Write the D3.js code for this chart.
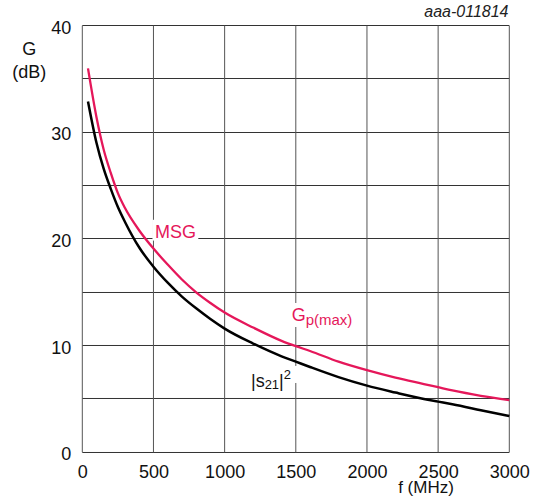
<!DOCTYPE html>
<html>
<head>
<meta charset="utf-8">
<script src="https://cdn.jsdelivr.net/npm/d3@7"></script>
<style>
  body { margin: 0; background: #fff; }
  text { font-family: "Liberation Sans", Arial, sans-serif; }
</style>
</head>
<body>
<script>
// Datos (f en MHz, G en dB)
var frecuencias = [40, 100, 150, 200, 250, 300, 400, 500, 600, 700, 800, 900, 1000, 1200, 1400, 1500, 1600, 1800, 2000, 2200, 2400, 2500, 2600, 2800, 3000];
var gpMax = [36.0, 31.4, 28.4, 26.2, 24.3, 22.9, 20.8, 19.1, 17.6, 16.2, 15.0, 14.0, 13.1, 11.7, 10.45, 9.95, 9.5, 8.5, 7.7, 7.0, 6.4, 6.1, 5.8, 5.3, 4.9];
var s21 = [32.9, 29.0, 26.6, 24.7, 23.0, 21.6, 19.2, 17.4, 15.9, 14.6, 13.5, 12.5, 11.6, 10.2, 9.0, 8.5, 8.0, 7.05, 6.25, 5.6, 5.0, 4.75, 4.5, 3.95, 3.4];

var ticksX = [0, 500, 1000, 1500, 2000, 2500, 3000];
var ticksY = [0, 10, 20, 30, 40];
var gridY = [0, 5, 10, 15, 20, 25, 30, 35, 40];

var rojo = "#e5175a";

var margin = {top: 25.7, right: 26.7, bottom: 51.7, left: 82.3},
    width = 536 - margin.left - margin.right,
    height = 504 - margin.top - margin.bottom;

var root = d3.select("body")
             .append("svg")
             .attr("width", 536)
             .attr("height", 504);

var svg = root.append("g")
              .attr("transform", "translate(" + margin.left + "," + margin.top + ")");

var x = d3.scaleLinear().domain([0, 3000]).range([0, width]);
var y = d3.scaleLinear().domain([0, 40]).range([height, 0]);

// Rejilla
svg.append("g")
   .selectAll("line")
   .data(gridY)
   .enter()
   .append("line")
   .attr("x1", 0)
   .attr("x2", width)
   .attr("y1", function(d) { return Math.round(y(d)) + 0.5 - margin.top % 1; })
   .attr("y2", function(d) { return Math.round(y(d)) + 0.5 - margin.top % 1; })
   .attr("stroke", "#333")
   .attr("stroke-width", 1);

svg.append("g")
   .selectAll("line")
   .data(ticksX)
   .enter()
   .append("line")
   .attr("x1", function(d) { return x(d); })
   .attr("x2", function(d) { return x(d); })
   .attr("y1", 0)
   .attr("y2", height)
   .attr("stroke", "#555")
   .attr("stroke-width", 1);

// Ejes (solo etiquetas)
var ejeX = svg.append("g")
   .attr("transform", "translate(0," + height + ")")
   .call(d3.axisBottom(x).tickValues(ticksX).tickSize(0).tickPadding(12.6).tickFormat(d3.format("d")));
ejeX.attr("font-size", 18).attr("font-family", null);
ejeX.select(".domain").remove();
ejeX.selectAll("text").attr("fill", "#111");

var ejeY = svg.append("g")
   .call(d3.axisLeft(y).tickValues(ticksY).tickSize(0).tickPadding(11));
ejeY.attr("font-size", 18).attr("font-family", null);
ejeY.select(".domain").remove();
ejeY.selectAll("text").attr("fill", "#111").attr("dy", "0.42em");

// Fondos blancos de las etiquetas
var cajas = [
    {f0: 493, f1: 815, g0: 21.8, g1: 19.85},
    {f0: 1450, f1: 1925, g0: 14.0, g1: 11.75},
    {f0: 1171, f1: 1509, g0: 8.1, g1: 6.5}
];
svg.append("g")
   .selectAll("rect")
   .data(cajas)
   .enter()
   .append("rect")
   .attr("x", function(d) { return x(d.f0); })
   .attr("y", function(d) { return y(d.g0); })
   .attr("width", function(d) { return x(d.f1) - x(d.f0); })
   .attr("height", function(d) { return y(d.g1) - y(d.g0); })
   .attr("fill", "#fff");

// Curvas
var linea = function(valores) {
    return d3.line()
             .x(function(d, i) { return x(frecuencias[i]); })
             .y(function(d) { return y(d); })
             .curve(d3.curveMonotoneX)(valores);
};

svg.append("path")
   .attr("d", linea(s21))
   .attr("fill", "none")
   .attr("stroke", "#000")
   .attr("stroke-width", 2.5);

svg.append("path")
   .attr("d", linea(gpMax))
   .attr("fill", "none")
   .attr("stroke", rojo)
   .attr("stroke-width", 2.3);

// Etiquetas de las curvas
svg.append("text")
   .attr("x", x(511))
   .attr("y", y(20.1))
   .attr("font-size", 18)
   .attr("fill", rojo)
   .text("MSG");

var gp = svg.append("text")
   .attr("x", x(1471))
   .attr("y", y(12.34))
   .attr("font-size", 18)
   .attr("fill", rojo);
gp.append("tspan").text("G");
gp.append("tspan").attr("font-size", 15).attr("dy", 4.5).text("p(max)");

var s = svg.append("text")
   .attr("x", x(1185))
   .attr("y", y(6.1))
   .attr("font-size", 18)
   .attr("fill", "#111");
s.append("tspan").text("|s");
s.append("tspan").attr("font-size", 13).attr("dy", 2).text("21");
s.append("tspan").attr("dy", -2).text("|");
s.append("tspan").attr("font-size", 13).attr("dy", -8).text("2");

// Titulos de ejes y referencia
root.append("text")
    .attr("x", 29.3)
    .attr("y", 55)
    .attr("text-anchor", "middle")
    .attr("font-size", 18)
    .attr("fill", "#111")
    .text("G");

root.append("text")
    .attr("x", 29.3)
    .attr("y", 78)
    .attr("text-anchor", "middle")
    .attr("font-size", 18)
    .attr("fill", "#111")
    .text("(dB)");

root.append("text")
    .attr("x", 426)
    .attr("y", 493)
    .attr("text-anchor", "middle")
    .attr("font-size", 17)
    .attr("fill", "#111")
    .text("f (MHz)");

root.append("text")
    .attr("x", 508.5)
    .attr("y", 17.3)
    .attr("text-anchor", "end")
    .attr("font-size", 16)
    .attr("font-style", "italic")
    .attr("fill", "#222")
    .text("aaa-011814");
</script>
</body>
</html>
